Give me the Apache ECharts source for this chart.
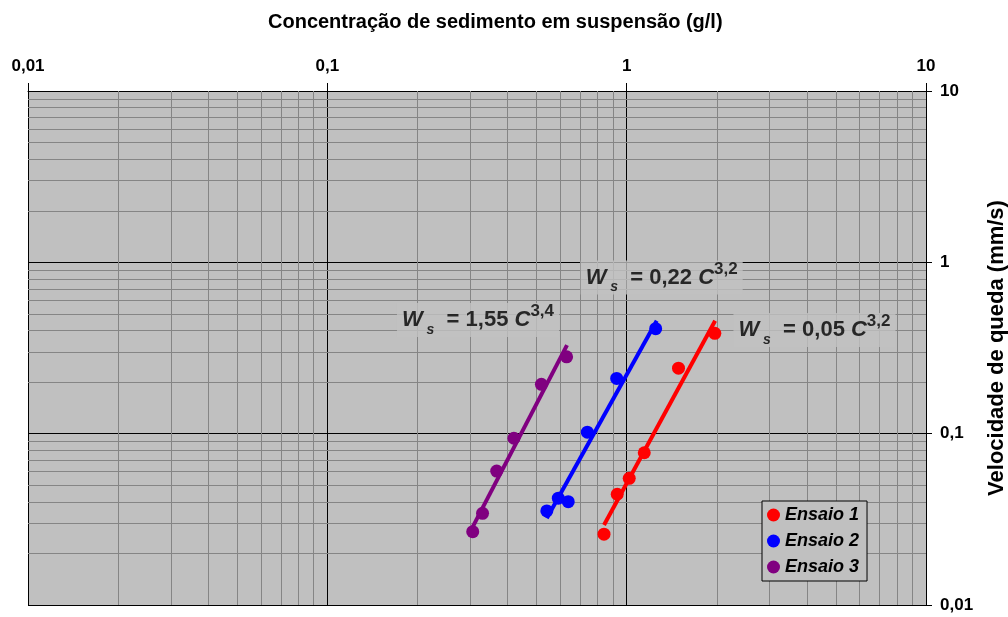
<!DOCTYPE html>
<html>
<head>
<meta charset="utf-8">
<script src="https://cdn.jsdelivr.net/npm/echarts@6/dist/echarts.min.js"></script>
<style>
html, body { margin: 0; padding: 0; background: #fff; }
#grafico { width: 1008px; height: 617px; }
</style>
</head>
<body>
<div id="grafico"></div>
<script>
// rótulos dos eixos
var xTicks = ['0,01', '0,1', '1', '10'];
var yTicks = ['0,01', '0,1', '1', '10'];

// pontos medidos (C em g/l, Ws em mm/s)
var ensaio1X = [0.84, 0.93, 1.02, 1.145, 1.49, 1.97];
var ensaio1Y = [0.0259, 0.0443, 0.0549, 0.0774, 0.241, 0.385];
var ensaio2X = [0.541, 0.591, 0.638, 0.739, 0.926, 1.25];
var ensaio2Y = [0.0354, 0.0420, 0.0401, 0.102, 0.210, 0.410];
var ensaio3X = [0.306, 0.330, 0.368, 0.420, 0.519, 0.630];
var ensaio3Y = [0.0268, 0.0343, 0.0605, 0.094, 0.194, 0.281];

// linhas de tendência (extremos)
var trend1X = [0.84, 1.975];
var trend1Y = [0.0293, 0.456];
var trend2X = [0.541, 1.26];
var trend2Y = [0.0321, 0.456];
var trend3X = [0.306, 0.632];
var trend3Y = [0.0286, 0.329];

// equações
var eqX = [0.3186, 1.309, 4.24];
var eqY = [0.4606, 0.8156, 0.4027];
var eqCoef = ['1,55', '0,22', '0,05'];
var eqExp = ['3,4', '3,2', '3,2'];

var cores = ['#ff0000', '#0000ff', '#800080'];

function pares(xs, ys) {
  return xs.map(function (x, i) { return [x, ys[i]]; });
}

// linhas secundárias da grade (2..9 em cada década)
var minor = [];
[0.01, 0.1, 1].forEach(function (d) {
  for (var k = 2; k <= 9; k++) minor.push(+(k * d).toFixed(4));
});

var chart = echarts.init(document.getElementById('grafico'));

var fonte = 'Liberation Sans, Arial, sans-serif';

var option = {
  animation: false,
  textStyle: { fontFamily: fonte },
  title: {
    text: 'Concentração de sedimento em suspensão (g/l)',
    left: 263,
    top: 7,
    textStyle: { fontSize: 20, fontWeight: 'bold', color: '#000', fontFamily: fonte }
  },
  grid: {
    left: 28, right: 82, top: 91, bottom: 12,
    show: true,
    backgroundColor: '#c0c0c0',
    borderWidth: 0,
    outerBoundsMode: 'none'
  },
  legend: {
    data: ['Ensaio 1', 'Ensaio 2', 'Ensaio 3'],
    orient: 'vertical',
    left: 762,
    top: 501,
    padding: [5, 8, 5, 5],
    itemGap: 8,
    itemWidth: 13,
    itemHeight: 13,
    icon: 'circle',
    backgroundColor: '#c0c0c0',
    borderColor: '#000',
    borderWidth: 1,
    borderRadius: 0,
    textStyle: { fontSize: 18, fontWeight: 'bold', fontStyle: 'italic', color: '#000', fontFamily: fonte }
  },
  xAxis: {
    type: 'log',
    logBase: 10,
    min: 0.01,
    max: 10,
    position: 'top',
    axisLine: { show: true, lineStyle: { color: '#000', width: 1 } },
    axisTick: { show: true, inside: false, length: 8, lineStyle: { color: '#000' } },
    axisLabel: {
      margin: 16,
      fontSize: 17,
      fontWeight: 'bold',
      color: '#000',
      fontFamily: fonte,
      formatter: function (v, i) { return xTicks[i]; }
    },
    splitLine: { show: true, lineStyle: { color: '#000', width: 1 } }
  },
  yAxis: {
    type: 'log',
    logBase: 10,
    min: 0.01,
    max: 10,
    position: 'right',
    name: 'Velocidade de queda (mm/s)',
    nameLocation: 'middle',
    nameRotate: 90,
    nameGap: 60,
    nameTextStyle: { fontSize: 22, fontWeight: 'bold', color: '#000', fontFamily: fonte },
    axisLine: { show: true, lineStyle: { color: '#000', width: 1 } },
    axisTick: { show: true, inside: false, length: 6, lineStyle: { color: '#000' } },
    axisLabel: {
      margin: 14,
      fontSize: 17,
      fontWeight: 'bold',
      color: '#000',
      fontFamily: fonte,
      formatter: function (v, i) { return yTicks[i]; }
    },
    splitLine: { show: true, lineStyle: { color: '#000', width: 1 } }
  },
  series: [
    {
      name: 'grade',
      type: 'line',
      data: [],
      z: 1,
      silent: true,
      markLine: {
        silent: true,
        z: 1,
        symbol: ['none', 'none'],
        label: { show: false },
        emphasis: { disabled: true },
        lineStyle: { color: '#858585', width: 1, type: 'solid' },
        data: minor.map(function (v) { return { xAxis: v }; })
          .concat(minor.map(function (v) { return { yAxis: v }; }))
      }
    },
    {
      name: 'Ensaio 1', type: 'scatter', data: pares(ensaio1X, ensaio1Y),
      symbolSize: 13, itemStyle: { color: cores[0], opacity: 1 }, z: 3
    },
    {
      name: 'Ensaio 2', type: 'scatter', data: pares(ensaio2X, ensaio2Y),
      symbolSize: 13, itemStyle: { color: cores[1], opacity: 1 }, z: 3
    },
    {
      name: 'Ensaio 3', type: 'scatter', data: pares(ensaio3X, ensaio3Y),
      symbolSize: 13, itemStyle: { color: cores[2], opacity: 1 }, z: 3
    },
    {
      name: 'Tendência 1', type: 'line', data: pares(trend1X, trend1Y),
      showSymbol: false, lineStyle: { color: cores[0], width: 4 }, z: 4
    },
    {
      name: 'Tendência 2', type: 'line', data: pares(trend2X, trend2Y),
      showSymbol: false, lineStyle: { color: cores[1], width: 4 }, z: 4
    },
    {
      name: 'Tendência 3', type: 'line', data: pares(trend3X, trend3Y),
      showSymbol: false, lineStyle: { color: cores[2], width: 4 }, z: 4
    },
    {
      name: 'Equações',
      type: 'scatter',
      z: 5,
      symbolSize: 1,
      itemStyle: { color: 'transparent' },
      data: eqX.map(function (x, i) { return { value: [x, eqY[i]], coef: eqCoef[i], exp: eqExp[i] }; }),
      label: {
        show: true,
        position: 'inside',
        backgroundColor: '#c0c0c0',
        padding: [0, 5],
        formatter: function (p) {
          return '{w|W}{s| s}{t|  = ' + p.data.coef + ' }{w|C}{p|' + p.data.exp + '}';
        },
        rich: {
          w: { fontSize: 22, fontWeight: 'bold', fontStyle: 'italic', color: '#000', lineHeight: 34, fontFamily: fonte },
          s: { fontSize: 14, fontWeight: 'bold', fontStyle: 'italic', color: '#000', lineHeight: 24, verticalAlign: 'bottom', fontFamily: fonte },
          t: { fontSize: 22, fontWeight: 'bold', color: '#000', lineHeight: 34, fontFamily: fonte },
          p: { fontSize: 17, fontWeight: 'bold', color: '#000', lineHeight: 10, verticalAlign: 'top', fontFamily: fonte }
        }
      }
    }
  ]
};

chart.setOption(option);
</script>
</body>
</html>
